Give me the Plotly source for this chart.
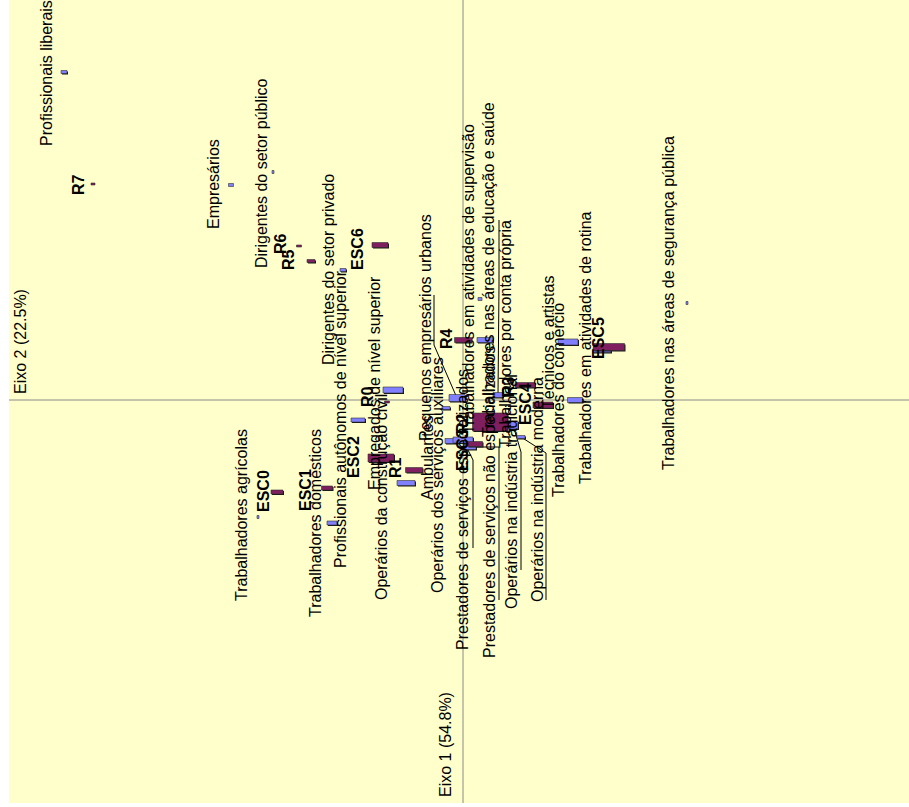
import plotly.graph_objects as go

# Correspondence analysis: occupational classes (rows) x schooling / income (columns)
# Coordinates: eixo2 runs left-right, eixo1 runs top-bottom.

ocupacoes = [
    "Profissionais liberais",
    "Empresários",
    "Dirigentes do setor público",
    "Dirigentes do setor privado",
    "Profissionais autônomos de nível superior",
    "Empregados de nível superior",
    "Pequenos empresários urbanos",
    "Trabalhadores em atividades de supervisão",
    "Trabalhadores nas áreas de educação e saúde",
    "Trabalhadores por conta própria",
    "Técnicos e artistas",
    "Trabalhadores em atividades de rotina",
    "Trabalhadores do comércio",
    "Trabalhadores nas áreas de segurança pública",
    "Operários na indústria moderna",
    "Operários na indústria tradicional",
    "Operários dos serviços auxiliares",
    "Operários da construção civil",
    "Prestadores de serviços especializados",
    "Prestadores de serviços não especializados",
    "Ambulantes",
    "Trabalhadores domésticos",
    "Trabalhadores agrícolas",
]
ocup_eixo2 = [-1.596, -0.928, -0.760, -0.480, -0.420, -0.280, -0.024, 0.088, 0.068, 0.140,
              0.420, 0.556, 0.448, 0.896, 0.232, 0.200, -0.044, -0.228, 0.000, 0.028,
              -0.068, -0.524, -0.820]
ocup_eixo1 = [1.312, 0.860, 0.912, 0.520, -0.080, 0.040, 0.008, 0.240, 0.404, 0.020,
              0.232, 0.200, 0.000, 0.388, -0.148, -0.100, -0.164, -0.332, -0.160, -0.188,
              -0.032, -0.492, -0.468]

grupos = ["ESC0", "ESC1", "ESC2", "ESC3", "ESC4", "ESC5", "ESC6",
          "R0", "R1", "R2", "R3", "R4", "R5", "R6", "R7"]
grup_eixo2 = [-0.744, -0.544, -0.328, 0.108, 0.320, 0.584, -0.332,
              -0.304, -0.196, 0.048, 0.248, 0.000, -0.608, -0.656, -1.480]
grup_eixo1 = [-0.368, -0.352, -0.232, -0.088, -0.020, 0.212, 0.620,
              -0.008, -0.280, -0.176, 0.060, 0.240, 0.556, 0.616, 0.864]

# ---- drawing parameters ----
PX = 250.0                      # pixels per unit on both axes
XR = [-454 / PX, 446 / PX]
YR = [-403 / PX, 400 / PX]
AZUL, ROXO = "#8080ff", "#7f1f5f"
FONTE = "Arial, Liberation Sans, sans-serif"

# bar sizes in pixels (width, height)
tam_ocup = [(6, 3), (5, 3), (2, 3), (6, 3), (14, 4), (20, 6), (16, 7), (16, 5), (4, 3), (10, 5),
            (20, 6), (18, 5), (15, 5), (2, 3), (8, 3), (10, 8), (14, 5), (18, 5), (20, 6), (12, 5),
            (8, 3), (10, 4), (2, 3)]
tam_grup = [(12, 4), (11, 4), (26, 8), (35, 18), (20, 6), (31, 7), (16, 5),
            (5, 2), (17, 5), (15, 5), (20, 5), (17, 5), (8, 3), (5, 2), (4, 2)]


def px(xp, yp):
    """pixel position inside the plot frame -> data coordinates"""
    return ((xp - 463) / PX, (400 - yp) / PX)


# label centres (pixel positions in the frame)
rot_ocup = [(46, 73), (213, 184), (261, 173), (328, 270), (340, 419), (374, 383), (425, 328),
            (468, 279), (488, 270), (505, 334), (548, 343), (585, 348), (558, 400), (668, 303),
            (537, 490), (511, 492), (437, 475), (381, 497), (462, 510), (489, 502), (427, 458),
            (315, 523), (241, 515)]
rot_grup = [(263, 491), (305, 490), (353, 457), (462, 450), (525, 404), (598, 338), (357, 249),
            (367, 397), (395, 468), (462, 424), (508, 387), (446, 339), (288, 260), (280, 244),
            (78, 185)]

# leader lines (pixel polylines ending at the point)
guias = {
    "Pequenos empresários urbanos": [(434, 295), (434, 345)],
    "Prestadores de serviços especializados": [(473, 548), (473, 460)],
    "Prestadores de serviços não especializados": [(499, 600), (499, 447)],
    "Operários na indústria tradicional": [(521, 570), (521, 452)],
    "Operários na indústria moderna": [(546, 600), (546, 453)],
    "Trabalhadores por conta própria": [(499, 220), (499, 285)],
}

shapes = []
annotations = []

# axis cross
shapes.append(dict(type="line", xref="x", yref="y", x0=0, x1=0, y0=YR[0], y1=YR[1],
                   line=dict(color="#8a8a8a", width=1), layer="below"))
shapes.append(dict(type="line", xref="x", yref="y", x0=XR[0], x1=XR[1], y0=0, y1=0,
                   line=dict(color="#8a8a8a", width=1), layer="below"))


def barra(cx, cy, w, h, cor):
    hw, hh, s = w / 2 / PX, h / 2 / PX, 1.0 / PX
    if w >= 6:
        shapes.append(dict(type="rect", xref="x", yref="y", x0=cx - hw + s, x1=cx + hw + s,
                           y0=cy - hh - s, y1=cy + hh - s, fillcolor="#141414",
                           line=dict(width=0), layer="above"))
    shapes.append(dict(type="rect", xref="x", yref="y", x0=cx - hw, x1=cx + hw,
                       y0=cy - hh, y1=cy + hh, fillcolor=cor,
                       line=dict(color="#303030", width=0.6), layer="above"))


for nome, x, y, (w, h) in zip(ocupacoes, ocup_eixo2, ocup_eixo1, tam_ocup):
    if nome in guias:
        pts = [px(*p) for p in guias[nome]] + [(x, y)]
        for (a, b), (c, d) in zip(pts[:-1], pts[1:]):
            shapes.append(dict(type="line", xref="x", yref="y", x0=a, y0=b, x1=c, y1=d,
                               line=dict(color="#000000", width=1), layer="above"))
for nome, x, y, (w, h) in zip(ocupacoes, ocup_eixo2, ocup_eixo1, tam_ocup):
    barra(x, y, w, h, AZUL)
for nome, x, y, (w, h) in zip(grupos, grup_eixo2, grup_eixo1, tam_grup):
    barra(x, y, w, h, ROXO)

for nome, p in zip(ocupacoes, rot_ocup):
    lx, ly = px(*p)
    annotations.append(dict(x=lx, y=ly, xref="x", yref="y", text=nome, showarrow=False,
                            textangle=-90, xanchor="center", yanchor="middle",
                            font=dict(family=FONTE, size=16, color="#000000")))
for nome, p in zip(grupos, rot_grup):
    lx, ly = px(*p)
    annotations.append(dict(x=lx, y=ly, xref="x", yref="y", text="<b>" + nome + "</b>",
                            showarrow=False, textangle=-90, xanchor="center", yanchor="middle",
                            font=dict(family=FONTE, size=16, color="#000000")))

# axis titles
for texto, p in [("Eixo 2 (22.5%)", (20, 342)), ("Eixo 1 (54.8%)", (445, 745))]:
    lx, ly = px(*p)
    annotations.append(dict(x=lx, y=ly, xref="x", yref="y", text=texto, showarrow=False,
                            textangle=-90, xanchor="center", yanchor="middle",
                            font=dict(family=FONTE, size=16, color="#000000")))

fig = go.Figure()
fig.add_trace(go.Scatter(x=ocup_eixo2, y=ocup_eixo1, mode="markers", text=ocupacoes,
                         marker=dict(size=1, opacity=0), hoverinfo="text", name="Ocupações"))
fig.add_trace(go.Scatter(x=grup_eixo2, y=grup_eixo1, mode="markers", text=grupos,
                         marker=dict(size=1, opacity=0), hoverinfo="text", name="Grupos"))

fig.update_layout(
    width=909, height=807,
    margin=dict(l=9, r=0, t=0, b=4, pad=0),
    paper_bgcolor="#ffffff", plot_bgcolor="#ffffcc",
    showlegend=False,
    xaxis=dict(range=XR, visible=False, fixedrange=True),
    yaxis=dict(range=YR, visible=False, fixedrange=True),
    shapes=shapes, annotations=annotations,
)

fig.write_html("out.html")
